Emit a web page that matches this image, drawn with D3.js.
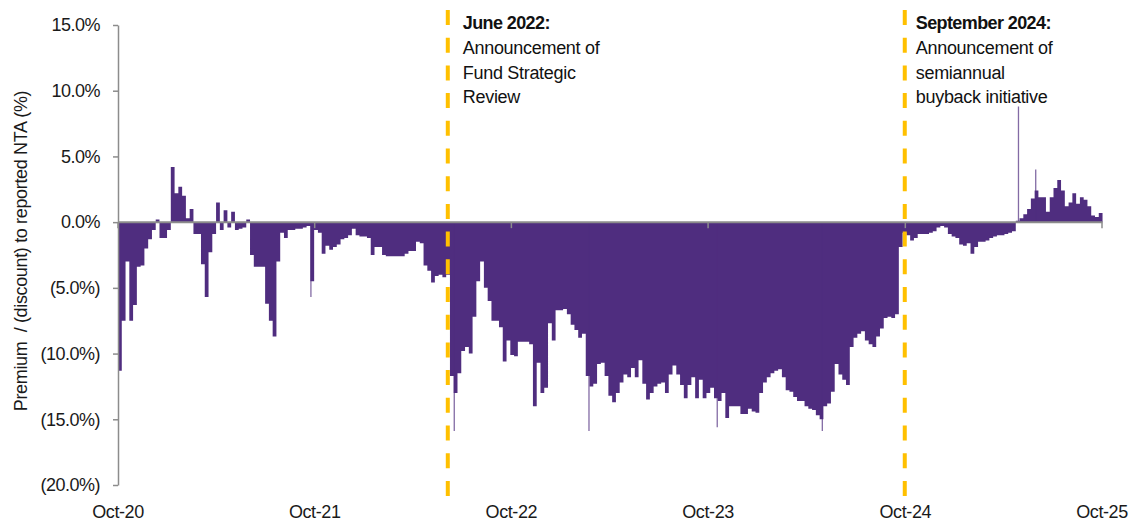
<!DOCTYPE html>
<html>
<head>
<meta charset="utf-8">
<script src="https://cdn.jsdelivr.net/npm/d3@7"></script>
<style>
  body { margin: 0; background: #fff; }
  svg text { font-family: "Liberation Sans", Arial, sans-serif; }
</style>
</head>
<body>
<div id="chart"></div>
<script>
// weekly premium / (discount) to NTA, %, starting 1 Oct 2020
const startDate = new Date(2020, 9, 1);
const endDate = new Date(2025, 9, 1);
const premium = [
  -11.3, -7.5, -3.0, -7.5, -6.3, -3.4, -3.3, -2.0, -1.3, -0.6,
  0.2, -1.2, -1.2, -0.6, 4.2, 2.2, 2.7, 2.0, 0.3, 1.0,
  -0.9, -0.9, -3.2, -5.7, -2.3, -0.9, 1.5, -0.6, 0.9, -0.4,
  0.8, -0.6, -0.5, -0.4, 0.2, -2.5, -3.4, -3.4, -3.4, -6.2,
  -7.5, -8.7, -3.0, -0.8, -1.2, -0.6, -0.6, -0.5, -0.5, -0.4,
  -0.3, -4.5, -0.6, -0.8, -2.4, -1.8, -2.1, -1.9, -1.7, -1.3,
  -1.2, -1.0, -0.5, -1.0, -1.1, -1.1, -1.2, -2.5, -1.9, -1.9,
  -2.5, -2.6, -2.6, -2.6, -2.6, -2.6, -2.4, -2.2, -2.2, -1.5,
  -1.6, -3.3, -3.7, -4.6, -4.1, -4.0, -4.2, -4.0, -11.7, -13.0,
  -11.5, -9.8, -9.5, -10.0, -7.2, -4.5, -3.0, -5.0, -6.0, -7.5,
  -7.5, -8.0, -10.6, -9.0, -10.1, -10.2, -9.1, -9.1, -9.1, -9.3,
  -14.0, -10.7, -13.0, -12.6, -7.7, -9.0, -6.7, -6.7, -6.6, -7.0,
  -7.8, -8.2, -8.8, -8.5, -11.7, -12.5, -12.3, -10.8, -10.7, -11.7,
  -13.2, -13.7, -13.0, -12.2, -11.6, -11.8, -11.1, -11.8, -10.5, -12.3,
  -13.5, -13.0, -12.5, -12.3, -12.2, -13.0, -11.6, -10.9, -11.6, -12.4,
  -13.4, -12.4, -11.8, -13.4, -12.0, -13.4, -13.0, -12.6, -13.4, -13.6,
  -13.0, -14.9, -14.0, -14.0, -14.0, -14.6, -14.6, -14.2, -14.4, -14.5,
  -13.0, -12.2, -11.8, -11.5, -11.3, -11.2, -11.8, -12.8, -12.9, -13.3,
  -13.6, -13.6, -14.0, -14.2, -14.3, -14.7, -15.0, -14.0, -13.8, -12.9,
  -10.8, -11.6, -12.0, -12.4, -9.5, -8.8, -8.5, -8.3, -9.0, -9.3,
  -9.5, -8.7, -8.1, -7.3, -7.2, -7.3, -7.0, -1.9, -0.8, -1.0,
  -1.4, -1.2, -0.9, -0.9, -0.9, -0.8, -0.7, -0.4, -0.3, -0.4,
  -0.9, -1.1, -1.2, -1.7, -1.8, -1.6, -2.4, -1.9, -1.5, -1.5,
  -1.4, -1.2, -1.1, -1.0, -1.0, -0.9, -0.8, -0.7, 0.1, 0.3,
  0.6, 1.0, 1.8, 2.4, 1.9, 1.9, 0.8, 1.9, 2.6, 3.2,
  2.4, 1.2, 1.5, 2.2, 1.4, 1.9, 1.7, 1.2, 0.5, 0.4,
  0.7
];
// single-day outliers
const spikeDates = ["2021-09-24", "2022-06-17", "2023-02-22", "2023-10-18", "2024-04-30", "2025-04-29", "2025-05-31"];
const spikeValues = [-5.7, -15.9, -15.9, -15.6, -15.9, 8.8, 4.0];

const eventDates = ["2022-06-05", "2024-09-30"];
const eventTitles = ["June 2022:", "September 2024:"];
const eventText = [
  ["Announcement of", "Fund Strategic", "Review"],
  ["Announcement of", "semiannual", "buyback initiative"]
];
const yTicks = [15, 10, 5, 0, -5, -10, -15, -20];
const xTicks = ["2020-10-01", "2021-10-01", "2022-10-01", "2023-10-01", "2024-10-01", "2025-10-01"];
const yTitle = "Premium\u00a0 / (discount) to reported NTA (%)";

const width = 1131;
const height = 521;
const purple = "#4F2D7F";
const gold = "#FFC000";
const axisGrey = "#8c8c8c";
const parse = d3.timeParse("%Y-%m-%d");

const svg = d3
  .select("#chart")
  .append("svg")
  .attr("width", width)
  .attr("height", height);

const x = d3.scaleTime().domain([startDate, endDate]).range([118, 1102]);
const y = d3.scaleLinear().domain([-20, 15]).range([485, 25]);

const data = premium.map((v, i) => ({ date: d3.timeDay.offset(startDate, 7 * i), value: v }));
data.push({ date: d3.timeDay.offset(startDate, 7 * premium.length), value: premium[premium.length - 1] });

const area = d3
  .area()
  .curve(d3.curveStepAfter)
  .x((d) => x(d.date))
  .y0(y(0))
  .y1((d) => y(d.value));

svg.append("path").datum(data).attr("d", area).style("fill", purple);

spikeDates.forEach((s, i) => {
  svg
    .append("line")
    .attr("x1", x(parse(s)))
    .attr("x2", x(parse(s)))
    .attr("y1", y(0))
    .attr("y2", y(spikeValues[i]))
    .style("stroke", purple)
    .style("stroke-width", 1.3)
    .style("opacity", 0.7);
});

// zero line + x ticks
svg
  .append("line")
  .attr("x1", 118)
  .attr("x2", x(d3.timeDay.offset(startDate, 7 * premium.length)))
  .attr("y1", y(0))
  .attr("y2", y(0))
  .style("stroke", axisGrey)
  .style("stroke-width", 2);

xTicks.forEach((t) => {
  svg
    .append("line")
    .attr("x1", x(parse(t)))
    .attr("x2", x(parse(t)))
    .attr("y1", y(0))
    .attr("y2", y(0) + 6)
    .style("stroke", axisGrey)
    .style("stroke-width", 1.5);
  svg
    .append("text")
    .attr("x", x(parse(t)))
    .attr("y", 518)
    .attr("text-anchor", "middle")
    .style("font-size", "18px")
    .style("letter-spacing", "-0.4px")
    .style("fill", "#1a1a1a")
    .text(d3.timeFormat("%b-%y")(parse(t)));
});

// y axis
const fmt = (v) => (v < 0 ? `(${Math.abs(v).toFixed(1)}%)` : `${v.toFixed(1)}%`);
const yAxis = svg
  .append("g")
  .attr("transform", "translate(118,0)")
  .call(d3.axisLeft(y).tickValues(yTicks).tickSize(5).tickSizeOuter(0).tickPadding(13).tickFormat(fmt));
yAxis.selectAll("path, line").style("stroke", axisGrey).style("stroke-width", 1.5);
yAxis
  .selectAll("text")
  .style("font-size", "18px")
  .style("letter-spacing", "-0.5px")
  .style("fill", "#1a1a1a")
  .style("font-family", '"Liberation Sans", Arial, sans-serif');

svg
  .append("text")
  .attr("transform", "translate(27,251) rotate(-90)")
  .attr("text-anchor", "middle")
  .style("font-size", "18px")
  .style("letter-spacing", "-0.35px")
  .style("fill", "#1a1a1a")
  .text(yTitle);

// event markers
const labelOffset = [15, 11];
eventDates.forEach((e, i) => {
  const ex = x(parse(e));
  svg
    .append("line")
    .attr("x1", ex)
    .attr("x2", ex)
    .attr("y1", 10)
    .attr("y2", 497)
    .style("stroke", gold)
    .style("stroke-width", 4)
    .style("stroke-dasharray", "15,12.7");
  svg
    .append("text")
    .attr("x", ex + labelOffset[i])
    .attr("y", 29)
    .style("font-size", "18px")
    .style("font-weight", "bold")
    .style("letter-spacing", "-0.6px")
    .style("fill", "#111")
    .text(eventTitles[i]);
  eventText[i].forEach((t, j) => {
    svg
      .append("text")
      .attr("x", ex + labelOffset[i])
      .attr("y", 54 + 24.7 * j)
      .style("font-size", "18px")
      .style("letter-spacing", "-0.3px")
      .style("fill", "#111")
      .text(t);
  });
});
</script>
</body>
</html>
